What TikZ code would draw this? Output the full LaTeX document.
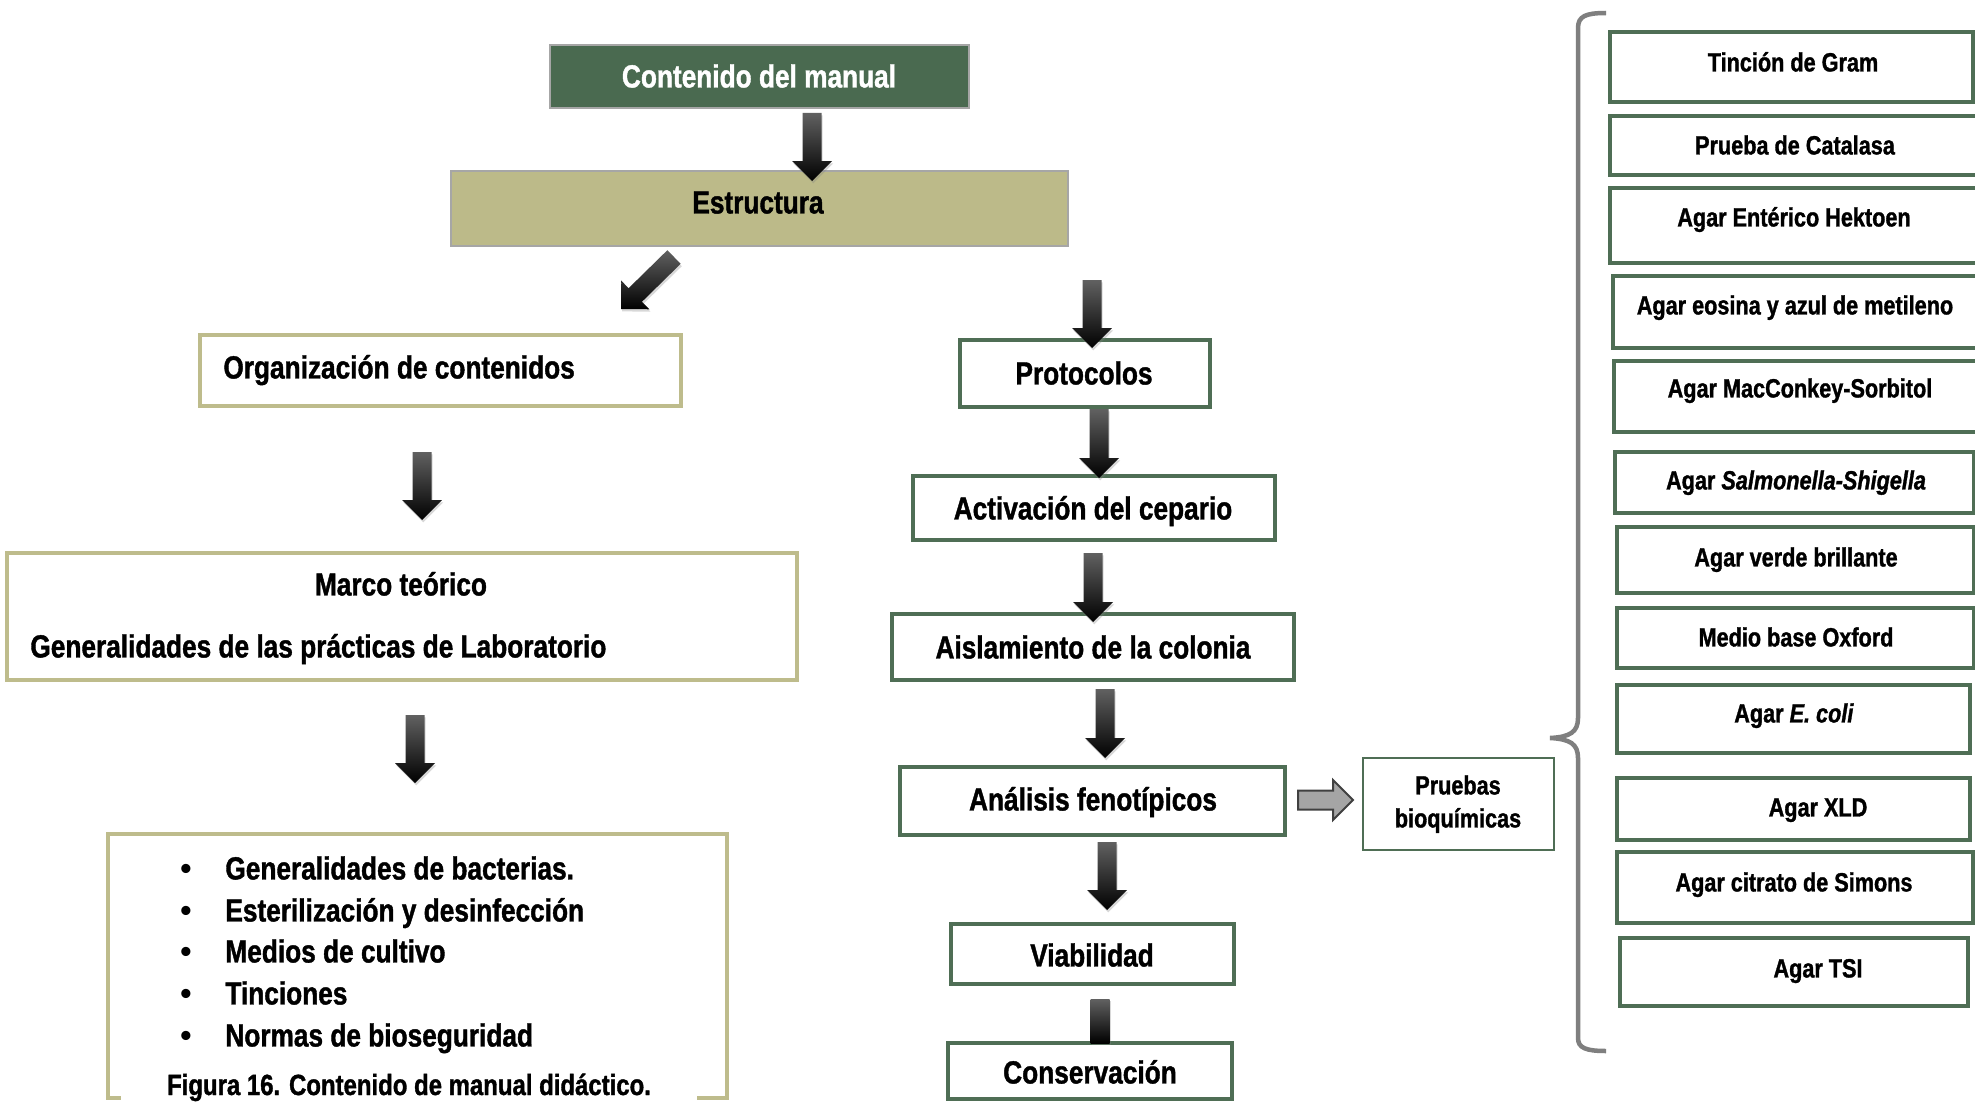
\documentclass[tikz,border=0pt]{standalone}
\usepackage{fontspec}
\setmainfont{Liberation Sans}[FakeStretch=0.82,BoldFeatures={FakeBold=1.2},BoldItalicFeatures={FakeBold=1.2}]
\newfontfamily\plainsans{Liberation Sans}
\usetikzlibrary{fit,calc,shadows}
\definecolor{hdgreen}{HTML}{4A6A50}
\definecolor{boxgray}{HTML}{A6A6A6}
\definecolor{olivefill}{HTML}{BCBA89}
\definecolor{oliveline}{HTML}{BEBC8C}
\definecolor{grline}{HTML}{4F6E55}
\definecolor{bracegray}{HTML}{7F7F7F}
\definecolor{garrowfill}{HTML}{A5A5A5}
\definecolor{garrowline}{HTML}{404040}
\tikzset{
  headbox/.style={draw=boxgray, line width=1pt, fill=hdgreen},
  strbox/.style={draw=boxgray, line width=1pt, fill=olivefill},
  olbox/.style={draw=oliveline, line width=1.75pt, fill=white},
  grbox/.style={draw=grline, line width=1.75pt, fill=white},
  thinbox/.style={draw=grline, line width=0.9pt, fill=white},
  bigtxt/.style={inner sep=0pt, text height=11.46pt, text depth=0pt, font=\bfseries\fontsize{16}{19}\selectfont},
  smtxt/.style={inner sep=0pt, text height=9.45pt, text depth=0pt, font=\bfseries\fontsize{13.2}{16}\selectfont},
  blk/.style={top color=black!62, bottom color=black, draw=none,
    drop shadow={opacity=0.3, shadow xshift=0.6pt, shadow yshift=-1.2pt}},
  gry/.style={fill=garrowfill, draw=garrowline, line width=1pt},
}
\newcommand\mybox[6]{\node[#6, fit={(#2,#3)(#4,#5)}, inner sep=0pt] (#1) {};}
\newcommand\blockarr[3][blk]{%
  \coordinate (tmpH) at ($(#3)!10pt!(#2)$);
  \path[#1] ($(#2)!4.75pt!90:(#3)$) -- ($(tmpH)!4.75pt!90:(#3)$)
     -- ($(tmpH)!10pt!90:(#3)$) -- (#3) -- ($(tmpH)!10pt!-90:(#3)$)
     -- ($(tmpH)!4.75pt!-90:(#3)$) -- ($(#2)!4.75pt!-90:(#3)$) -- cycle;}
\begin{document}
\begin{tikzpicture}[x=0.5pt,y=-0.5pt]
\useasboundingbox[fill=white] (0,0) rectangle (1975,1102);

% ---- top ----
\mybox{cont}{550}{45}{969}{108}{headbox}
\node[bigtxt, text=white] (contt) at (759,76) {Contenido del manual};
\mybox{estr}{451}{171}{1068}{246}{strbox}
\node[bigtxt] (estrt) at (758,202) {Estructura};

% ---- left column ----
\mybox{org}{200}{335}{681}{406}{olbox}
\node[bigtxt, anchor=west] (orgt) at (223,367) {Organización de contenidos};
\mybox{marco}{7}{553}{797}{680}{olbox}
\node[bigtxt] (marcot) at (401,584) {Marco teórico};
\node[bigtxt, anchor=west] (gent) at (30,646) {Generalidades de las prácticas de Laboratorio};
\mybox{bul}{108}{834}{727}{1098}{olbox}
\foreach \yy/\tt [count=\i] in {868/Generalidades de bacterias., 910/Esterilización y desinfección, 951/Medios de cultivo, 993/Tinciones, 1035/Normas de bioseguridad}{
  \node[bigtxt] (bd\i) at (186,\yy) {\plainsans\textbullet};
  \node[bigtxt, anchor=west] (bt\i) at (225,\yy) {\tt};
}
\node[font=\bfseries\fontsize{14.6}{17}\selectfont, fill=white, inner xsep=23pt, inner ysep=1pt,
  text height=10.45pt, text depth=4.4pt, anchor=base] (cap) at (409,1095) {Figura 16. Contenido de manual didáctico.};

% ---- middle column ----
\mybox{prot}{960}{340}{1210}{407}{grbox}
\node[bigtxt] (prott) at (1084,373) {Protocolos};
\mybox{act}{913}{476}{1275}{540}{grbox}
\node[bigtxt] (actt) at (1093,508) {Activación del cepario};
\mybox{ais}{892}{614}{1294}{680}{grbox}
\node[bigtxt] (aist) at (1093,647) {Aislamiento de la colonia};
\mybox{ana}{900}{767}{1285}{835}{grbox}
\node[bigtxt] (anat) at (1093,799) {Análisis fenotípicos};
\mybox{prb}{1363}{758}{1554}{850}{thinbox}
\node[smtxt] (prbt1) at (1458,785) {Pruebas};
\node[smtxt] (prbt2) at (1458,818) {bioquímicas};
\mybox{via}{951}{924}{1234}{984}{grbox}
\node[bigtxt] (viat) at (1092,955) {Viabilidad};
\mybox{cons}{948}{1043}{1232}{1099}{grbox}
\node[bigtxt] (const) at (1090,1072) {Conservación};

% ---- right column ----
\mybox{r1}{1610}{32}{1973}{102}{grbox}
\node[smtxt] (r1t) at (1793,62) {Tinción de Gram};
\mybox{r2}{1610}{116}{1985}{175}{grbox}
\node[smtxt] (r2t) at (1795,145) {Prueba de Catalasa};
\mybox{r3}{1610}{188}{1985}{263}{grbox}
\node[smtxt] (r3t) at (1794,217) {Agar Entérico Hektoen};
\mybox{r4}{1613}{276}{1985}{348}{grbox}
\node[smtxt] (r4t) at (1795,305) {Agar eosina y azul de metileno};
\mybox{r5}{1614}{361}{1985}{432}{grbox}
\node[smtxt] (r5t) at (1800,388) {Agar MacConkey-Sorbitol};
\mybox{r6}{1615}{452}{1974}{513}{grbox}
\node[smtxt] (r6t) at (1796,480) {Agar \textit{Salmonella-Shigella}};
\mybox{r7}{1617}{527}{1974}{593}{grbox}
\node[smtxt] (r7t) at (1796,557) {Agar verde brillante};
\mybox{r8}{1617}{608}{1974}{668}{grbox}
\node[smtxt] (r8t) at (1796,637) {Medio base Oxford};
\mybox{r9}{1617}{685}{1970}{753}{grbox}
\node[smtxt] (r9t) at (1794,713) {Agar \textit{E. coli}};
\mybox{r10}{1617}{778}{1970}{840}{grbox}
\node[smtxt] (r10t) at (1818,807) {Agar XLD};
\mybox{r11}{1617}{852}{1973}{923}{grbox}
\node[smtxt] (r11t) at (1794,882) {Agar citrato de Simons};
\mybox{r12}{1620}{938}{1968}{1006}{grbox}
\node[smtxt] (r12t) at (1818,968) {Agar TSI};

% ---- brace ----
\draw[bracegray, line width=2.25pt]
  (1606,13) .. controls (1586,13) and (1578,16) .. (1578,28) -- (1578,718)
  .. controls (1578,732) and (1570,737) .. (1550,738)
  .. controls (1570,739) and (1578,744) .. (1578,758) -- (1578,1038)
  .. controls (1578,1048) and (1586,1051) .. (1606,1051);

% ---- arrows ----
\coordinate (a1s) at (812,113);  \coordinate (a1e) at (812,181);
\coordinate (a2s) at (674,257);  \coordinate (a2e) at (621,309);
\coordinate (a3s) at (422,452);  \coordinate (a3e) at (422,520);
\coordinate (a4s) at (415,715);  \coordinate (a4e) at (415,783);
\coordinate (a5s) at (1092,280); \coordinate (a5e) at (1092,348);
\coordinate (a6s) at (1099,409); \coordinate (a6e) at (1099,478);
\coordinate (a7s) at (1093,553); \coordinate (a7e) at (1093,622);
\coordinate (a8s) at (1105,689); \coordinate (a8e) at (1105,758);
\coordinate (a9s) at (1107,842); \coordinate (a9e) at (1107,910);
\coordinate (sts) at (1100,999); \coordinate (ste) at (1100,1043);
\coordinate (gas) at (1298,800); \coordinate (gae) at (1353,800);
\blockarr{a1s}{a1e}
\blockarr{a2s}{a2e}
\blockarr{a3s}{a3e}
\blockarr{a4s}{a4e}
\blockarr{a5s}{a5e}
\blockarr{a6s}{a6e}
\blockarr{a7s}{a7e}
\blockarr{a8s}{a8e}
\blockarr{a9s}{a9e}
\path[blk] ($(sts)+(-9.5,0)$) rectangle ($(ste)+(9.5,0)$);
\blockarr[gry]{gas}{gae}
\end{tikzpicture}
\end{document}
